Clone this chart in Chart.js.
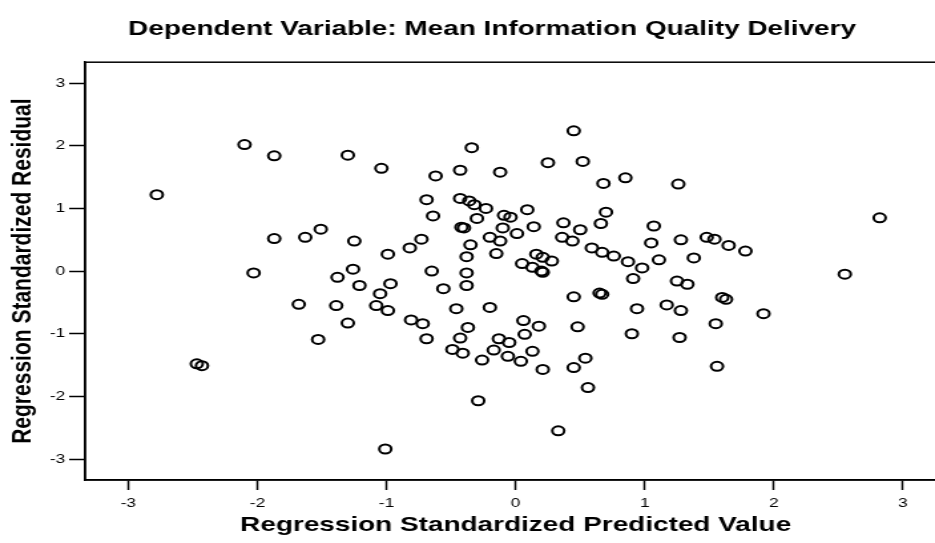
<!DOCTYPE html>
<html>
<head>
<meta charset="utf-8">
<title>Scatterplot</title>
<script src="https://cdn.jsdelivr.net/npm/chart.js@4.4.1/dist/chart.umd.min.js"></script>
<style>
  html, body { margin: 0; padding: 0; background: #fff; overflow: hidden; }
  /* the plot is drawn narrow and stretched sideways */
  #wrap { width: 740px; height: 543px; transform: scaleX(1.33); transform-origin: 0 0; }
</style>
</head>
<body>
<div id="wrap"><canvas id="chart" width="740" height="543"></canvas></div>
<script>
// regression standardized predicted value (x) / standardized residual (y)
const predicted = [
    -2.78, -2.10, -1.87, -1.87, -1.63, -1.51, -2.03, -1.68, -1.53, -2.47, -2.43,
    -1.30, -1.04, -0.62, -0.43, -0.34, -0.69, -0.43, -0.36, -0.32, -0.23, -0.64,
    -0.42, -0.40, -1.25, -0.73, -0.82, -0.99, -0.35, -0.38, -0.65, -1.26, -1.38,
    -1.21, -0.97, -0.56, -0.38, -0.38, -1.05, -1.39, -1.08, -0.99, -0.46, -1.30,
    -0.81, -0.72, -0.69, -0.37, -0.43, -0.49, -0.41, -1.01,
    0.45, 0.25, 0.52, -0.12, 0.85, 0.68, 0.09, 0.70, -0.09, -0.04, -0.30, -0.10,
    0.14, 0.37, 0.66, 0.50, -0.20, -0.12, 0.01, 0.36, 0.44, -0.15, 0.16, 0.21,
    0.28, 0.05, 0.13, 0.20, 0.21, 0.59, 0.67, 0.76, 0.87, 0.91, 0.98,
    1.26, 1.07, 1.05, 1.28, 1.48, 1.54, 1.65, 1.78, 1.11, 1.38, 1.25, 1.33,
    2.82, 2.55,
    -0.20, 0.45, 0.65, 0.67, 0.94, 0.90, 0.06, 0.18, 0.48, 0.07, -0.13, -0.05,
    -0.17, -0.26, -0.06, 0.04, 0.13, 0.21, 0.54, 0.45, 0.56, -0.29, 0.33,
    1.60, 1.63, 1.17, 1.28, 1.92, 1.55, 1.27, 1.56
];
const residual = [
    1.22, 2.02, 1.84, 0.52, 0.54, 0.67, -0.03, -0.53, -1.09, -1.48, -1.51,
    1.85, 1.64, 1.52, 1.61, 1.97, 1.14, 1.16, 1.12, 1.06, 1.00, 0.88,
    0.70, 0.69, 0.48, 0.51, 0.37, 0.27, 0.42, 0.23, 0.00, 0.03, -0.10,
    -0.23, -0.20, -0.28, -0.03, -0.23, -0.36, -0.55, -0.55, -0.63, -0.60, -0.83,
    -0.78, -0.84, -1.08, -0.90, -1.07, -1.25, -1.31, -2.84,
    2.24, 1.73, 1.75, 1.58, 1.49, 1.40, 0.98, 0.94, 0.89, 0.86, 0.84, 0.69,
    0.71, 0.77, 0.76, 0.66, 0.54, 0.48, 0.60, 0.54, 0.48, 0.28, 0.27, 0.22,
    0.16, 0.12, 0.06, 0.00, -0.02, 0.37, 0.30, 0.24, 0.15, -0.12, 0.05,
    1.39, 0.72, 0.45, 0.50, 0.54, 0.51, 0.41, 0.32, 0.18, 0.21, -0.16, -0.21,
    0.85, -0.05,
    -0.58, -0.41, -0.35, -0.37, -0.60, -1.00, -0.79, -0.88, -0.89, -1.01, -1.08, -1.14,
    -1.26, -1.42, -1.36, -1.44, -1.28, -1.57, -1.39, -1.54, -1.86, -2.07, -2.55,
    -0.42, -0.45, -0.54, -0.63, -0.68, -0.84, -1.06, -1.52
];
const tickValues = [-3, -2, -1, 0, 1, 2, 3];
const axisMin = -3.335;
const axisMax = 3.335;

const points = predicted.map((x, i) => ({ x: x, y: residual[i] }));

const fontFamily = "'Liberation Sans', Arial, sans-serif";
Chart.defaults.color = '#000';
Chart.defaults.font.family = fontFamily;

// box around the plotting area
const frame = {
    id: 'frame',
    afterDraw(chart) {
        const { ctx, chartArea: a } = chart;
        ctx.save();
        ctx.strokeStyle = '#000';
        ctx.lineWidth = 1.5;
        ctx.strokeRect(a.left, a.top, a.right - a.left, a.bottom - a.top);
        ctx.restore();
    }
};

const setTicks = scale => { scale.ticks = tickValues.map(v => ({ value: v })); };

const ctx = document.getElementById('chart').getContext('2d');
const myChart = new Chart(ctx, {
    type: 'scatter',
    data: {
        datasets: [{
            data: points,
            pointStyle: 'circle',
            pointRadius: 4.5,
            pointBorderWidth: 2,
            pointBorderColor: '#000',
            pointBackgroundColor: 'rgba(0,0,0,0)'
        }]
    },
    options: {
        responsive: false,
        animation: false,
        events: [],
        layout: { padding: 0 },
        scales: {
            x: {
                type: 'linear',
                min: axisMin,
                max: axisMax,
                afterBuildTicks: setTicks,
                afterFit: scale => { scale.height = 63; },
                grid: { drawOnChartArea: false, drawTicks: true, tickLength: 10, tickWidth: 1.5, color: '#000' },
                border: { display: true, color: '#000', width: 1.5 },
                ticks: { font: { size: 13 }, padding: 6, color: '#000' },
                title: {
                    display: true,
                    text: 'Regression Standardized Predicted Value',
                    font: { size: 21, weight: 'bold' },
                    padding: { top: 0, bottom: 5 },
                    color: '#000'
                }
            },
            y: {
                type: 'linear',
                min: axisMin,
                max: axisMax,
                afterBuildTicks: setTicks,
                afterFit: scale => { scale.width = 64; },
                grid: { drawOnChartArea: false, drawTicks: true, tickLength: 12, tickWidth: 1.5, color: '#000' },
                border: { display: true, color: '#000', width: 1.5 },
                ticks: { font: { size: 13 }, padding: 3, color: '#000' },
                title: {
                    display: true,
                    text: 'Regression Standardized Residual',
                    font: { size: 21, weight: 'bold' },
                    padding: { top: 5, bottom: 0 },
                    color: '#000'
                }
            },
            // empty strip on the right so the main title stays centred on the canvas
            yRight: {
                type: 'linear',
                position: 'right',
                min: axisMin,
                max: axisMax,
                afterFit: scale => { scale.width = 28.6; },
                grid: { display: false },
                border: { display: false },
                ticks: { display: false }
            }
        },
        plugins: {
            legend: { display: false },
            tooltip: { enabled: false },
            title: {
                display: true,
                text: 'Dependent Variable: Mean Information Quality Delivery',
                font: { size: 21, weight: 'bold' },
                padding: { top: 17, bottom: 20 },
                color: '#000'
            }
        }
    },
    plugins: [frame]
});
</script>
</body>
</html>
